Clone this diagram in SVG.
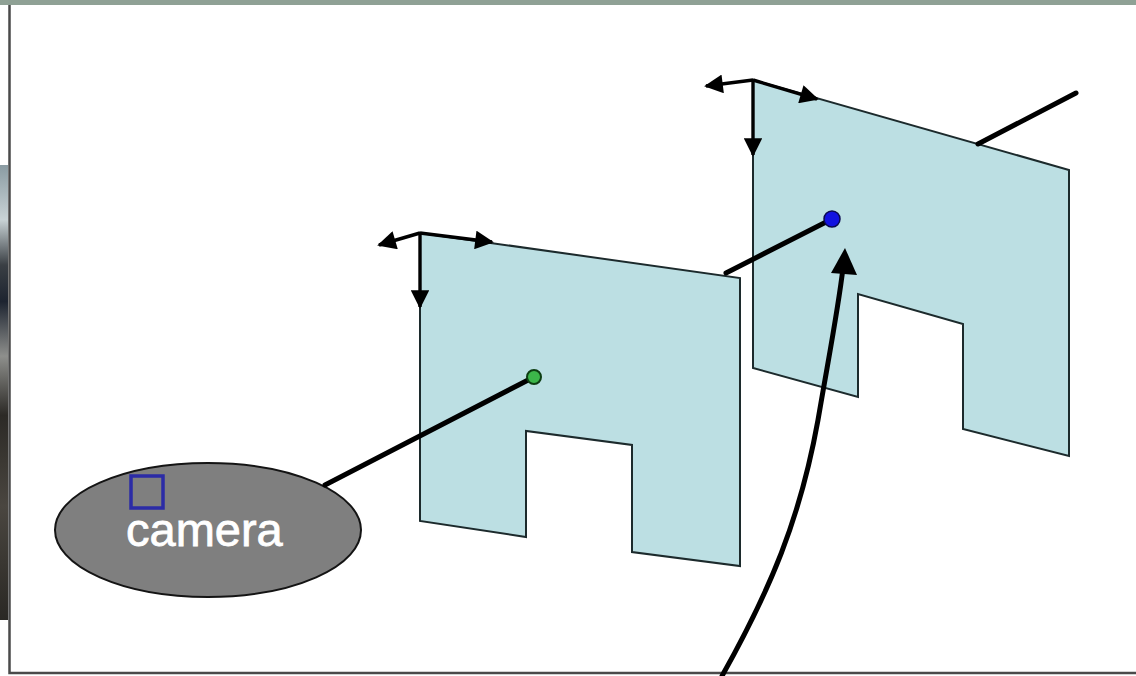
<svg xmlns="http://www.w3.org/2000/svg" width="1136" height="676" viewBox="0 0 1136 676">
  <defs>
    <style>
      .panel { fill: #bcdfe3; stroke: #1c2a2c; stroke-width: 2; stroke-linejoin: miter; }
      .axis { fill: none; stroke: #000; stroke-width: 3.4; }
      .ray { fill: none; stroke: #000; stroke-width: 5; stroke-linecap: round; }
      .frame { fill: none; stroke: #4a4a4a; stroke-width: 2.5; }
      .label { font-family: "Liberation Sans", Arial, sans-serif; font-size: 47px; fill: #ffffff; stroke: #ffffff; stroke-width: 0.8; }
    </style>
    <marker id="tip" viewBox="0 0 10 10" refX="9" refY="5" markerWidth="6" markerHeight="5.5" orient="auto" markerUnits="strokeWidth">
      <path d="M0,0 L10,5 L0,10 Z" fill="#000"/>
    </marker>
    <linearGradient id="photo" x1="0" y1="0" x2="0" y2="1">
      <stop offset="0" stop-color="#8a9ba2"/>
      <stop offset="0.12" stop-color="#c9d3d6"/>
      <stop offset="0.22" stop-color="#3a3f44"/>
      <stop offset="0.3" stop-color="#1d2430"/>
      <stop offset="0.42" stop-color="#8e8f8c"/>
      <stop offset="0.55" stop-color="#2c2a26"/>
      <stop offset="0.75" stop-color="#4a4640"/>
      <stop offset="1" stop-color="#2a2824"/>
    </linearGradient>
  </defs>

  <!-- page background and slide frame -->
  <rect x="0" y="0" width="1136" height="676" fill="#ffffff"/>
  <rect x="0" y="0" width="1136" height="5" fill="#8fa195"/>
  <rect x="0" y="165" width="8" height="455" fill="url(#photo)"/>
  <path class="frame" d="M9.5,5 V673 H1136"/>

  <!-- camera node -->
  <g id="camera">
    <ellipse cx="208" cy="530" rx="153" ry="67" fill="#7f7f7f" stroke="#141414" stroke-width="2"/>
    <rect x="131" y="476" width="32" height="32" fill="none" stroke="#2b2ba6" stroke-width="3.5"/>
    <text class="label" x="126" y="546">camera</text>
  </g>

  <!-- first image plane -->
  <g id="plane-near">
    <polygon class="panel" points="420,233 740,278 740,566 632,552 632,445 526,431 526,537 420,521"/>
    <path class="axis" d="M420,233 L379,245" marker-end="url(#tip)"/>
    <path class="axis" d="M420,233 L492,242" marker-end="url(#tip)"/>
    <path class="axis" d="M420,233 L420,307" marker-end="url(#tip)"/>
  </g>

  <!-- second image plane -->
  <g id="plane-far">
    <polygon class="panel" points="753,80 1069,170 1069,456 963,429 963,324 858,294 858,397 753,368"/>
    <path class="axis" d="M753,80 L706,86" marker-end="url(#tip)"/>
    <path class="axis" d="M753,80 L817,99" marker-end="url(#tip)"/>
    <path class="axis" d="M753,80 L753,155" marker-end="url(#tip)"/>
  </g>

  <!-- rays through the planes and the curved pointer -->
  <g id="connectors">
    <line class="ray" x1="325" y1="485" x2="534" y2="377"/>
    <line class="ray" x1="726" y1="273" x2="832" y2="219"/>
    <line class="ray" x1="978" y1="144" x2="1076" y2="93"/>
    <path class="ray" d="M722,676 C770,590 800,520 818,420 C830,350 838,310 843,268" stroke-linecap="butt"/>
    <path d="M831,273 L845,248 L857,275 Z" fill="#000"/>
  </g>

  <!-- projected points -->
  <g id="point-near">
    <circle cx="534" cy="377" r="7" fill="#3cb64a" stroke="#0d3d12" stroke-width="2"/>
  </g>
  <g id="point-far">
    <circle cx="832" cy="219" r="8" fill="#1212e0" stroke="#0a0a50" stroke-width="1.5"/>
  </g>
</svg>
